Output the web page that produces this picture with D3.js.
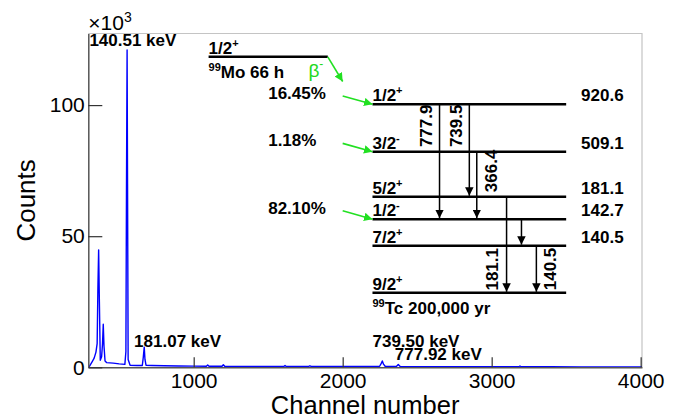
<!DOCTYPE html>
<html>
<head>
<meta charset="utf-8">
<script src="https://cdn.jsdelivr.net/npm/d3@7"></script>
<style>
  body { margin: 0; background: #fff; }
  text { font-family: "Liberation Sans", Arial, Helvetica, sans-serif; }
  .tick text { font-size: 21px; fill: #000; }
  .bold { font-weight: bold; font-size: 17px; fill: #000; }
</style>
</head>
<body>
<div id="chart"></div>
<script>
// spectrum: channel and counts (x10^3)
var channels = [296, 319, 332, 344, 352, 357, 362, 367, 373, 382, 388, 393, 398, 405, 415, 460, 500, 538,
  545, 549, 553, 556, 560, 573, 620, 655, 662, 668, 673, 680, 720, 800, 900, 1000, 1085, 1094, 1103,
  1190, 1199, 1208, 1300, 1400, 1500, 1605, 1613, 1621, 1772, 1780, 1788, 1900, 2000, 2100, 2200,
  2248, 2258, 2266, 2274, 2285, 2360, 2373, 2386, 2500, 2700, 2900, 3100, 3182, 3190, 3198, 3400,
  3600, 3800, 4009];
var counts = [0, 2.2, 3.5, 5.8, 9, 30, 44.8, 25, 2.7, 4, 9, 16.4, 8, 2.4, 1.8, 1.6, 1.3, 1.1,
  6, 70, 121, 70, 3, 0.8, 0.7, 0.7, 4, 7.7, 3, 0.8, 0.7, 0.6, 0.5, 0.45, 0.4, 0.9, 0.4,
  0.4, 1.0, 0.4, 0.35, 0.3, 0.3, 0.3, 0.7, 0.3, 0.3, 0.6, 0.3, 0.3, 0.3, 0.3, 0.3,
  0.4, 1.4, 2.4, 1.2, 0.4, 0.3, 1.1, 0.3, 0.25, 0.25, 0.2, 0.2, 0.2, 0.5, 0.2, 0.2,
  0.15, 0.15, 0.15];

var xTicks = [1000, 2000, 3000, 4000];
var yTicks = [0, 50, 100];

// peak labels
var peakNames = ["140.51 keV", "181.07 keV", "739.50 keV", "777.92 keV"];
var peakLabelCh = [300, 600, 2200, 2350];
var peakLabelCounts = [122.4, 7.9, 7.9, 2.8];

// decay scheme: levels of 99Tc (top to ground)
var levelSpin = ["1/2", "3/2", "5/2", "1/2", "7/2", "9/2"];
var levelParity = ["+", "-", "+", "-", "+", "+"];
var levelEnergy = ["920.6", "509.1", "181.1", "142.7", "140.5", ""];
var levelHeight = [100.3, 82.2, 65, 56.5, 46.4, 28.4];   // placed in counts units

// beta feeding
var betaPercent = ["16.45%", "1.18%", "82.10%"];
var betaLevel = [0, 1, 3];

// gamma transitions
var gammaNames = ["777.9", "739.5", "366.4", "181.1", "140.5", ""];
var gammaFrom = [0, 0, 1, 2, 4, 3];
var gammaTo = [3, 2, 3, 5, 5, 4];
var gammaCh = [2650, 2850, 2900, 3100, 3300, 3200];
var gammaLabelCh = [2600, 2800, 3035, 3045, 3435, 0];
var gammaLabelTop = [100.2, 100.2, 83.0, 45.5, 45.6, 0];

//svg area
var svgWidth = 694;
var svgHeight = 419;

var margin = { top: 33.5, right: 52, bottom: 51.7, left: 88.3 };
var width = svgWidth - margin.left - margin.right;
var height = svgHeight - margin.top - margin.bottom;

var svg = d3.select("#chart")
  .append("svg")
  .attr("width", svgWidth)
  .attr("height", svgHeight);

var defs = svg.append("defs");
function marker(id, color) {
  defs.append("marker")
    .attr("id", id)
    .attr("viewBox", "0 0 10 10")
    .attr("refX", 10)
    .attr("refY", 5)
    .attr("markerUnits", "userSpaceOnUse")
    .attr("markerWidth", 8.5)
    .attr("markerHeight", 8.5)
    .attr("orient", "auto")
    .append("path")
    .attr("d", "M0,0 L10,5 L0,10 Z")
    .attr("fill", color);
}
marker("headBlack", "#000");
marker("headGreen", "#22e022");

var chartGroup = svg.append("g")
  .attr("transform", `translate(${margin.left}, ${margin.top})`);

//scales
var xScale = d3.scaleLinear().domain([292.6, 4009]).range([0, width]);
var yScale = d3.scaleLinear().domain([0, 127.3]).range([height, 0]);

//frame top/right
chartGroup.append("path")
  .attr("d", `M0,0 H${width} V${height}`)
  .attr("fill", "none")
  .attr("stroke", "#c4c4c4")
  .attr("stroke-width", 1.2);

//spectrum
var spectrum = channels.map((c, i) => ({ ch: c, n: counts[i] }));
var line = d3.line().x(d => xScale(d.ch)).y(d => yScale(d.n));
chartGroup.append("path")
  .datum(spectrum)
  .attr("d", line)
  .attr("fill", "none")
  .attr("stroke", "#0000ff")
  .attr("stroke-width", 1.4)
  .attr("stroke-linejoin", "round");

//axes
var bottomAxis = d3.axisBottom(xScale).tickValues(xTicks).tickFormat(d3.format("d"))
  .tickSize(-10).tickSizeOuter(0).tickPadding(6);
var leftAxis = d3.axisLeft(yScale).tickValues(yTicks).tickFormat(d3.format("d"))
  .tickSize(-14).tickSizeOuter(0).tickPadding(3.5);

var gx = chartGroup.append("g")
  .attr("transform", `translate(0, ${height})`)
  .call(bottomAxis);
var gy = chartGroup.append("g").call(leftAxis);
[gx, gy].forEach(g => {
  g.select(".domain").attr("stroke", "#555").attr("stroke-width", 1.5);
  g.selectAll(".tick line").attr("stroke", "#333").attr("stroke-width", 1.2);
  g.selectAll(".tick text").attr("font-size", null);
});

//x10^3
var mult = chartGroup.append("text").attr("x", 0).attr("y", -4).attr("font-size", 21);
mult.append("tspan").text("\u00d710");
mult.append("tspan").attr("dy", -8).attr("font-size", 14).text("3");

//axis titles
chartGroup.append("text")
  .attr("transform", `translate(${35 - margin.left}, ${height / 2}) rotate(-90)`)
  .attr("text-anchor", "middle")
  .attr("font-size", 26)
  .text("Counts");

chartGroup.append("text")
  .attr("x", width / 2)
  .attr("y", 413.5 - margin.top)
  .attr("text-anchor", "middle")
  .attr("font-size", 25.5)
  .text("Channel number");

//peak labels
chartGroup.selectAll(".peak")
  .data(peakNames)
  .enter()
  .append("text")
  .attr("class", "bold")
  .attr("x", (d, i) => xScale(peakLabelCh[i]))
  .attr("y", (d, i) => yScale(peakLabelCounts[i]))
  .text(d => d);

// ---- decay scheme ----
var levelX0 = xScale(2200), levelX1 = xScale(3500);

// 99Mo parent
var moY = yScale(118.4);
chartGroup.append("line")
  .attr("x1", xScale(1100)).attr("x2", xScale(1900))
  .attr("y1", moY).attr("y2", moY)
  .attr("stroke", "#000").attr("stroke-width", 2.5);
var moSpin = chartGroup.append("text").attr("class", "bold").attr("x", xScale(1100)).attr("y", moY - 2.5);
moSpin.append("tspan").text("1/2");
moSpin.append("tspan").attr("dy", -7).attr("font-size", 11).text("+");
var moName = chartGroup.append("text").attr("class", "bold").attr("x", xScale(1100)).attr("y", moY + 21.6);
moName.append("tspan").attr("dy", -7).attr("font-size", 11).text("99");
moName.append("tspan").attr("dy", 7).text("Mo 66 h");

var beta = chartGroup.append("text").attr("x", xScale(1770)).attr("y", moY + 20)
  .attr("font-size", 19).attr("fill", "#22d822");
beta.append("tspan").text("\u03b2");
beta.append("tspan").attr("dy", -9).attr("font-size", 12).text("-");

chartGroup.append("line")
  .attr("x1", xScale(1900)).attr("y1", moY)
  .attr("x2", xScale(2000)).attr("y2", yScale(109))
  .attr("stroke", "#22e022").attr("stroke-width", 1.6)
  .attr("marker-end", "url(#headGreen)");

// levels
var levels = chartGroup.selectAll(".level")
  .data(levelHeight)
  .enter()
  .append("g");

levels.append("line")
  .attr("x1", levelX0).attr("x2", levelX1)
  .attr("y1", d => yScale(d)).attr("y2", d => yScale(d))
  .attr("stroke", "#000").attr("stroke-width", 2.5);

var spinText = levels.append("text")
  .attr("class", "bold")
  .attr("x", levelX0)
  .attr("y", d => yScale(d) - 3);
spinText.append("tspan").text((d, i) => levelSpin[i]);
spinText.append("tspan").attr("dy", -7).attr("font-size", 11).text((d, i) => levelParity[i]);

levels.append("text")
  .attr("class", "bold")
  .attr("x", xScale(3600))
  .attr("y", d => yScale(d) - 3)
  .text((d, i) => levelEnergy[i]);

var tcName = chartGroup.append("text").attr("class", "bold")
  .attr("x", levelX0).attr("y", yScale(levelHeight[5]) + 21.3);
tcName.append("tspan").attr("dy", -7).attr("font-size", 11).text("99");
tcName.append("tspan").attr("dy", 7).text("Tc 200,000 yr");

// beta feeding arrows and branching
betaPercent.forEach((p, i) => {
  var ly = levelHeight[betaLevel[i]];
  chartGroup.append("text").attr("class", "bold")
    .attr("x", xScale(1500)).attr("y", yScale(ly) - 5.5)
    .text(p);
  chartGroup.append("line")
    .attr("x1", xScale(2000)).attr("y1", yScale(ly + 3.2))
    .attr("x2", xScale(2200)).attr("y2", yScale(ly))
    .attr("stroke", "#22e022").attr("stroke-width", 1.6)
    .attr("marker-end", "url(#headGreen)");
});

// gamma transitions
gammaNames.forEach((g, i) => {
  var gx0 = xScale(gammaCh[i]);
  chartGroup.append("line")
    .attr("x1", gx0).attr("x2", gx0)
    .attr("y1", yScale(levelHeight[gammaFrom[i]]))
    .attr("y2", yScale(levelHeight[gammaTo[i]]) - 1)
    .attr("stroke", "#000").attr("stroke-width", 1.5)
    .attr("marker-end", "url(#headBlack)");
  if (g) {
    chartGroup.append("text").attr("class", "bold")
      .attr("transform", `translate(${xScale(gammaLabelCh[i])}, ${yScale(gammaLabelTop[i])}) rotate(-90)`)
      .attr("text-anchor", "end")
      .text(g);
  }
});
</script>
</body>
</html>
